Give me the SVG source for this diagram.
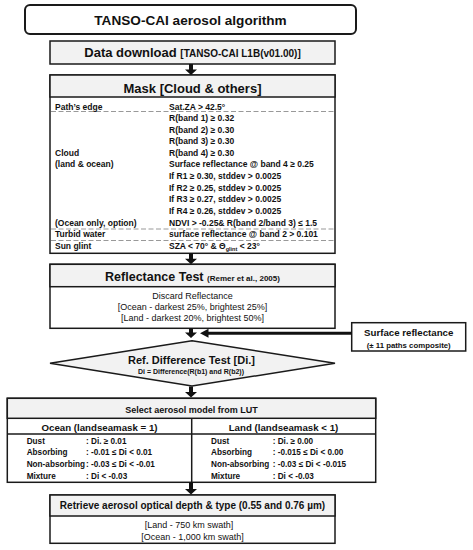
<svg xmlns="http://www.w3.org/2000/svg" width="473" height="550" viewBox="0 0 473 550">
<style>
text{font-family:"Liberation Sans",Arial,sans-serif;fill:#111}
.b{font-weight:bold}
.box{fill:#fff;stroke:#1a1a1a;stroke-width:1.5}
.hdr{fill:#f2f2f2;stroke:#1a1a1a;stroke-width:1.5}
.ln{stroke:#1a1a1a;stroke-width:1.5;fill:none}
.dash{stroke:#999;stroke-width:1;stroke-dasharray:5,2.5;fill:none}
.row{font-size:8.5px;font-weight:bold}
.lut{font-size:8.2px;font-weight:bold}
.body{font-size:9px}
.c{text-anchor:middle}
.arr{fill:#111}
</style>
<rect width="473" height="550" fill="#fff"/>

<g id="title">
<rect x="25" y="5" width="331" height="29" rx="5" fill="#fff" stroke="#1a1a1a" stroke-width="2"/>
<text x="190.5" y="24.5" class="b c" font-size="13.6">TANSO-CAI aerosol algorithm</text>
</g>

<g id="data-download">
<rect x="50" y="41" width="285" height="23" class="hdr"/>
<text x="192.5" y="57" class="b c"><tspan font-size="13">Data download </tspan><tspan font-size="10">[TANSO-CAI L1B(v01.00)]</tspan></text>
</g>

<g id="mask">
<rect x="50" y="75" width="285" height="178.3" class="box"/>
<rect x="50" y="75" width="285" height="22" class="hdr"/>
<text x="192.5" y="92.5" class="b c" font-size="13">Mask [Cloud &amp; others]</text>
<line x1="51" y1="111.5" x2="334" y2="111.5" class="dash"/>
<line x1="51" y1="229" x2="334" y2="229" class="dash"/>
<line x1="51" y1="240.5" x2="334" y2="240.5" class="dash"/>
<g class="row">
<text x="55" y="109.5">Path’s edge</text>
<text x="169" y="109.5">Sat.ZA &gt; 42.5°</text>
<text x="169" y="121">R(band 1) ≥ 0.32</text>
<text x="169" y="132.6">R(band 2) ≥ 0.30</text>
<text x="169" y="144.2">R(band 3) ≥ 0.30</text>
<text x="55" y="155.8">Cloud</text>
<text x="169" y="155.8">R(band 4) ≥ 0.30</text>
<text x="55" y="167.4">(land &amp; ocean)</text>
<text x="169" y="167.4">Surface reflectance @ band 4 ≥ 0.25</text>
<text x="169" y="179">If R1 ≥ 0.30, stddev &gt; 0.0025</text>
<text x="169" y="190.6">If R2 ≥ 0.25, stddev &gt; 0.0025</text>
<text x="169" y="202.2">If R3 ≥ 0.27, stddev &gt; 0.0025</text>
<text x="169" y="213.8">If R4 ≥ 0.26, stddev &gt; 0.0025</text>
<text x="55" y="225.8">(Ocean only, option)</text>
<text x="169" y="225.8">NDVI &gt; -0.25&amp; R(band 2/band 3) ≤ 1.5</text>
<text x="55" y="237.3">Turbid water</text>
<text x="169" y="237.3">surface reflectance @ band 2 &gt; 0.101</text>
<text x="55" y="249">Sun glint</text>
<text x="169" y="249">SZA &lt; 70° &amp; Θ<tspan dy="2" font-size="5.5">glint</tspan><tspan dy="-2"> &lt; 23°</tspan></text>
</g>
</g>

<g id="reflectance-test">
<rect x="50" y="264.3" width="285" height="64" class="box"/>
<rect x="50" y="264.3" width="285" height="22.4" class="hdr"/>
<text x="192.5" y="281" class="b c"><tspan font-size="12.5">Reflectance Test </tspan><tspan font-size="8">(Remer et al., 2005)</tspan></text>
<text x="192.5" y="298.8" class="body c">Discard Reflectance</text>
<text x="192.5" y="309.8" class="body c">[Ocean - darkest 25%, brightest 25%]</text>
<text x="192.5" y="321.4" class="body c">[Land - darkest 20%, brightest 50%]</text>
</g>

<g id="surface-reflectance">
<rect x="351.7" y="322.7" width="114" height="28.3" class="box"/>
<text x="408.7" y="335.8" class="b c" font-size="9.7">Surface reflectance</text>
<text x="408.7" y="348" class="b c" font-size="7.8">(± 11 paths composite)</text>
</g>

<g id="ref-difference-test">
<polygon points="192,340.7 335,363.3 192,386 50,363.3" class="hdr"/>
<text x="191.5" y="364" class="b c" font-size="11">Ref. Difference Test [Di.]</text>
<text x="191" y="374" class="b c" font-size="7">Di = Difference(R(b1) and R(b2))</text>
</g>

<g id="select-aerosol-model">
<rect x="7.3" y="398.3" width="368.4" height="84" class="box"/>
<rect x="7.3" y="398.3" width="368.4" height="20" class="hdr"/>
<line x1="7.3" y1="434" x2="375.7" y2="434" class="ln"/>
<line x1="191.7" y1="418.3" x2="191.7" y2="482.3" class="ln"/>
<text x="191.5" y="412.5" class="b c" font-size="9">Select aerosol model from LUT</text>
<text x="99.5" y="430.5" class="b c" font-size="9.7">Ocean (landseamask = 1)</text>
<text x="283.5" y="430.5" class="b c" font-size="9.7">Land (landseamask &lt; 1)</text>
<g class="lut">
<text x="26.7" y="443.7">Dust</text>
<text x="86" y="443.7">: Di. ≥  0.01</text>
<text x="26.7" y="455.3">Absorbing</text>
<text x="86" y="455.3">: -0.01 ≤ Di &lt; 0.01</text>
<text x="26.7" y="467">Non-absorbing</text>
<text x="86" y="467">: -0.03 ≤ Di &lt; -0.01</text>
<text x="26.7" y="478.6">Mixture</text>
<text x="86" y="478.6">: Di &lt; -0.03</text>
<text x="211" y="443.7">Dust</text>
<text x="272.7" y="443.7">: Di. ≥  0.00</text>
<text x="211" y="455.3">Absorbing</text>
<text x="272.7" y="455.3">: -0.015 ≤ Di &lt; 0.00</text>
<text x="211" y="467">Non-absorbing</text>
<text x="272.7" y="467">: -0.03 ≤ Di &lt; -0.015</text>
<text x="211" y="478.6">Mixture</text>
<text x="272.7" y="478.6">: Di &lt; -0.03</text>
</g>
</g>

<g id="retrieve">
<rect x="50" y="495" width="285" height="48.3" class="box"/>
<rect x="50" y="495" width="285" height="21" class="hdr"/>
<text x="192.5" y="509" class="b c" font-size="10">Retrieve aerosol optical depth &amp; type (0.55 and 0.76 µm)</text>
<text x="189" y="528" class="body c">[Land -  750 km swath]</text>
<text x="192.5" y="539.7" class="body c">[Ocean - 1,000 km swath]</text>
</g>

<g id="connectors">
<polygon class="arr" points="189,64 193,64 193,69.5 197,69.5 191,75 185,69.5 189,69.5"/>
<polygon class="arr" points="189,253.3 193,253.3 193,258.8 197,258.8 191,264.3 185,258.8 189,258.8"/>
<polygon class="arr" points="189,328.3 193,328.3 193,332.5 197,332.5 191,338 185,332.5 189,332.5"/>
<polygon class="arr" points="189,386.5 193,386.5 193,392 197,392 191,397.5 185,392 189,392"/>
<polygon class="arr" points="189,482.3 193,482.3 193,489 197,489 191,494.5 185,489 189,489"/>
<line x1="351.7" y1="333.3" x2="206" y2="333.3" stroke="#111" stroke-width="3"/>
<polygon class="arr" points="200,333.3 208.5,328.8 208.5,337.8"/>
</g>
</svg>
